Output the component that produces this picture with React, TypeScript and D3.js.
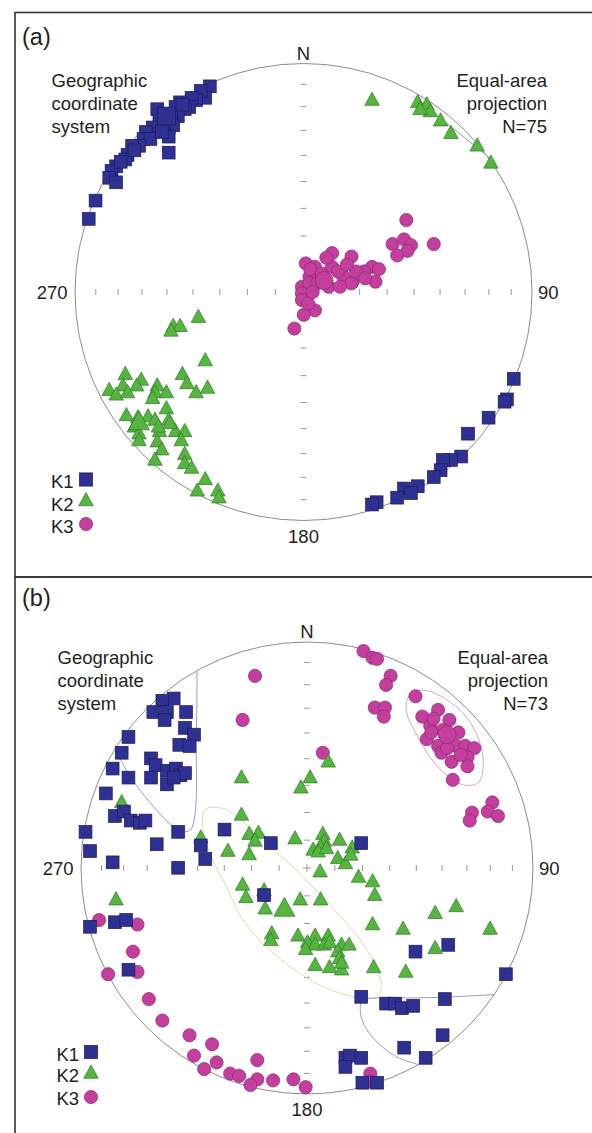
import React from 'react';
import * as d3 from 'd3';

type P = [number, number]; // projected [east, north] on unit equal-area net

// ---- axis ticks (inclination, degrees) ----
const tickInclinations = [10, 20, 30, 40, 50, 60, 70, 80];
const seriesNames = ['K1', 'K2', 'K3'];

// ---- Panel (a) ----
const panelAK1: P[] = [
  [-0.41, 0.9], [-0.43, 0.85], [-0.45, 0.88], [-0.47, 0.84], [-0.49, 0.85], [-0.5, 0.81], [-0.52, 0.8],
  [-0.54, 0.83], [-0.56, 0.81], [-0.55, 0.77], [-0.58, 0.77], [-0.63, 0.78], [-0.64, 0.8], [-0.63, 0.75],
  [-0.59, 0.72], [-0.57, 0.73], [-0.59, 0.68], [-0.59, 0.61], [-0.66, 0.72], [-0.69, 0.7], [-0.7, 0.67],
  [-0.67, 0.67], [-0.72, 0.64], [-0.75, 0.64], [-0.77, 0.6], [-0.78, 0.58], [-0.82, 0.55], [-0.84, 0.53],
  [-0.85, 0.5], [-0.82, 0.48], [-0.91, 0.4], [-0.94, 0.32], [-0.53, 0.82], [-0.61, 0.74], [-0.74, 0.62],
  [-0.62, 0.7], [-0.8, 0.57],
  [0.92, -0.38], [0.89, -0.47], [0.88, -0.48], [0.81, -0.55], [0.72, -0.62], [0.69, -0.72], [0.645, -0.735],
  [0.61, -0.735], [0.6, -0.78], [0.57, -0.81], [0.5, -0.85], [0.44, -0.86], [0.47, -0.88], [0.41, -0.9],
  [0.32, -0.92], [0.3, -0.93],
];
const panelAK2: P[] = [
  [0.3, 0.84], [0.5, 0.83], [0.54, 0.82], [0.555, 0.79], [0.6, 0.75], [0.645, 0.695], [0.76, 0.64],
  [0.82, 0.565], [0.51, 0.8],
  [-0.46, -0.11], [-0.57, -0.15], [-0.54, -0.15], [-0.58, -0.17], [-0.43, -0.3], [-0.53, -0.36], [-0.51, -0.4],
  [-0.42, -0.42], [-0.47, -0.44], [-0.78, -0.36], [-0.71, -0.385], [-0.79, -0.41], [-0.73, -0.41], [-0.85, -0.43],
  [-0.82, -0.45], [-0.77, -0.44], [-0.64, -0.41], [-0.65, -0.44], [-0.6, -0.44], [-0.66, -0.465], [-0.775, -0.54],
  [-0.725, -0.55], [-0.74, -0.59], [-0.68, -0.545], [-0.65, -0.56], [-0.6, -0.51], [-0.59, -0.56], [-0.63, -0.61],
  [-0.72, -0.62], [-0.72, -0.65], [-0.64, -0.655], [-0.56, -0.61], [-0.52, -0.61], [-0.535, -0.65], [-0.62, -0.69],
  [-0.65, -0.735], [-0.52, -0.71], [-0.52, -0.75], [-0.49, -0.77], [-0.43, -0.82], [-0.465, -0.87], [-0.375, -0.87],
  [-0.37, -0.9], [-0.585, -0.575], [-0.635, -0.59],
];
const panelAK3: P[] = [
  [0.45, 0.315], [0.39, 0.21], [0.44, 0.23], [0.47, 0.205], [0.455, 0.18], [0.41, 0.16], [0.57, 0.21],
  [0.125, 0.17], [0.21, 0.155], [0.01, 0.125], [0.05, 0.11], [0.125, 0.11], [0.3, 0.11], [0.265, 0.09],
  [0.315, 0.045], [0.215, 0.045], [0.175, 0.067], [0.026, 0.067], [-0.007, 0.023], [0.026, 0.038], [0.06, 0.038],
  [0.21, 0.038], [-0.007, -0.006], [-0.007, -0.035], [0.05, -0.08], [0.001, -0.1], [-0.04, -0.16], [0.11, 0.023],
  [0.16, 0.023], [0.03, 0.1], [0.08, 0.08], [0.15, 0.09], [0.23, 0.09], [0.19, 0.12], [0.1, 0.15], [0.27, 0.06],
  [0.33, 0.1], [0.02, -0.05], [0.04, 0.0],
];
const panelAMeanK1: P = [-0.6, 0.77];
const panelAMeanK2: P = [-0.72, -0.57];
const panelAMeanK3: P = [0.09, 0.05];
const panelAConfidenceK2: P[] = [[0.48, 0.855], [0.83, 0.575]];

// ---- Panel (b) ----
const panelBK1: P[] = [
  [-0.59, 0.75], [-0.64, 0.74], [-0.68, 0.69], [-0.62, 0.69], [-0.63, 0.655], [-0.535, 0.69], [-0.54, 0.62],
  [-0.5, 0.59], [-0.565, 0.545], [-0.52, 0.54], [-0.79, 0.58], [-0.82, 0.51], [-0.86, 0.44], [-0.79, 0.4],
  [-0.69, 0.485], [-0.67, 0.455], [-0.69, 0.4], [-0.62, 0.43], [-0.62, 0.37], [-0.58, 0.44], [-0.56, 0.41],
  [-0.54, 0.42], [-0.59, 0.4], [-0.89, 0.33], [-0.85, 0.23], [-0.81, 0.25], [-0.78, 0.21], [-0.74, 0.2],
  [-0.715, 0.21], [-0.98, 0.16], [-0.57, 0.16], [-0.365, 0.17], [-0.665, 0.105], [-0.47, 0.1], [-0.16, 0.11],
  [0.24, 0.11], [-0.96, 0.075], [-0.86, 0.025], [-0.57, 0.001], [-0.45, 0.04], [-0.19, -0.12], [-0.96, -0.26],
  [-0.85, -0.24], [-0.8, -0.23], [-0.79, -0.45], [0.48, -0.37], [0.625, -0.34], [0.88, -0.47], [0.24, -0.57],
  [0.35, -0.6], [0.39, -0.6], [0.42, -0.62], [0.47, -0.61], [0.61, -0.58], [0.6, -0.74], [0.43, -0.795],
  [0.525, -0.84], [0.17, -0.84], [0.19, -0.83], [0.24, -0.84], [0.17, -0.88], [0.245, -0.95], [0.31, -0.95],
];
const panelBK2: P[] = [
  [0.094, 0.47], [0.014, 0.4], [-0.027, 0.355], [-0.29, 0.4], [-0.29, 0.235], [-0.82, 0.29], [-0.47, 0.134],
  [-0.256, 0.15], [-0.215, 0.155], [-0.23, 0.12], [-0.053, 0.13], [0.07, 0.15], [0.077, 0.12], [0.144, 0.124],
  [0.027, 0.08], [0.058, 0.094], [0.2, 0.09], [-0.35, 0.075], [-0.256, 0.06], [0.05, 0.072], [0.086, 0.087],
  [0.136, 0.043], [0.17, 0.02], [0.194, 0.058], [0.058, -0.016], [0.228, -0.04], [0.29, -0.06], [0.3, -0.12],
  [-0.285, -0.075], [-0.27, -0.13], [-0.19, -0.1], [-0.185, -0.18], [-0.03, -0.14], [0.06, -0.14], [-0.845, -0.14],
  [0.29, -0.25], [0.425, -0.27], [0.567, -0.2], [0.66, -0.17], [0.81, -0.27], [0.567, -0.355], [0.437, -0.46],
  [0.295, -0.44], [-0.156, -0.29], [-0.16, -0.32], [-0.04, -0.3], [0.036, -0.3], [0.094, -0.3], [0.002, -0.33],
  [0.036, -0.34], [0.077, -0.34], [0.1, -0.33], [0.153, -0.34], [0.186, -0.34], [-0.006, -0.36], [0.136, -0.37],
  [0.144, -0.4], [0.036, -0.43], [0.1, -0.44], [0.153, -0.45], [0.153, -0.42],
];
const panelBK3: P[] = [
  [0.25, 0.96], [0.29, 0.93], [0.31, 0.925], [0.37, 0.85], [0.35, 0.81], [-0.23, 0.85], [-0.285, 0.655],
  [0.07, 0.51], [0.3, 0.71], [0.345, 0.71], [0.34, 0.67], [0.48, 0.76], [0.51, 0.67], [0.58, 0.7], [0.545, 0.63],
  [0.63, 0.655], [0.67, 0.6], [0.53, 0.57], [0.58, 0.54], [0.595, 0.51], [0.66, 0.54], [0.7, 0.54], [0.74, 0.53],
  [0.71, 0.49], [0.64, 0.47], [0.71, 0.45], [0.645, 0.39], [0.82, 0.29], [0.8, 0.25], [0.845, 0.23], [0.73, 0.245],
  [0.72, 0.21], [0.56, 0.66], [0.6, 0.61], [0.55, 0.6], [0.62, 0.53], [0.68, 0.5],
  [-0.92, -0.23], [-0.75, -0.25], [-0.77, -0.37], [-0.75, -0.46], [-0.88, -0.47], [-0.7, -0.58], [-0.64, -0.675],
  [-0.52, -0.74], [-0.42, -0.78], [-0.5, -0.83], [-0.4, -0.86], [-0.455, -0.89], [-0.34, -0.91], [-0.3, -0.92],
  [-0.22, -0.85], [-0.22, -0.935], [-0.25, -0.96], [-0.15, -0.94], [-0.06, -0.935], [-0.006, -0.97], [0.28, -0.91],
  [0.28, -0.945],
];
const panelBMeanK2: P = [-0.1, -0.18];
const panelBMeanK3: P = [0.62, 0.59];
const panelBConfidenceK2: P[] = [
  [-0.45, 0.26], [-0.36, 0.26], [-0.27, 0.19], [-0.19, 0.12], [-0.04, -0.016], [0.06, -0.12], [0.144, -0.21],
  [0.23, -0.31], [0.295, -0.415], [0.33, -0.52], [0.31, -0.57], [0.21, -0.57], [0.06, -0.52], [-0.07, -0.44],
  [-0.19, -0.34], [-0.29, -0.22], [-0.36, -0.075], [-0.42, 0.043], [-0.46, 0.17],
];
const panelBConfidenceK3: P[] = [
  [0.445, 0.75], [0.47, 0.78], [0.53, 0.785], [0.61, 0.75], [0.695, 0.68], [0.76, 0.57], [0.78, 0.455],
  [0.76, 0.38], [0.71, 0.365], [0.645, 0.39], [0.56, 0.47], [0.48, 0.6], [0.44, 0.69],
];
const panelBConfidenceK1Upper: P[] = [
  [-0.487, 0.87], [-0.487, 0.75], [-0.49, 0.53], [-0.49, 0.31], [-0.5, 0.21], [-0.515, 0.17], [-0.55, 0.16],
  [-0.6, 0.19], [-0.66, 0.25], [-0.72, 0.32], [-0.78, 0.4], [-0.82, 0.47], [-0.85, 0.53],
];
const panelBConfidenceK1Lower: P[] = [
  [0.83, -0.56], [0.645, -0.57], [0.48, -0.575], [0.31, -0.575], [0.245, -0.585], [0.236, -0.635],
  [0.253, -0.695], [0.31, -0.77], [0.395, -0.835], [0.495, -0.87],
];

const STYLE: Record<string, { fill: string; stroke: string }> = {
  K1: { fill: '#2e3192', stroke: '#1b1c5e' },
  K2: { fill: '#55b540', stroke: '#2f7a24' },
  K3: { fill: '#c43f9d', stroke: '#8a2a6e' },
};
const FONT = '"Liberation Sans", Arial, Helvetica, sans-serif';

// equal-area radius (unit net) for a given inclination
const eaRadius = (inc: number) => Math.SQRT2 * Math.sin(((90 - inc) * Math.PI) / 180 / 2);

function Marker({ kind, x, y, s }: { kind: string; x: number; y: number; s: number }) {
  const st = STYLE[kind];
  if (kind === 'K1') {
    return <rect x={x - s / 2} y={y - s / 2} width={s} height={s} fill={st.fill} stroke={st.stroke} strokeWidth={0.7} />;
  }
  if (kind === 'K2') {
    const w = s * 1.1;
    const h = s * 1.0;
    const d = `M${x},${y - h * 0.6}L${x + w / 2},${y + h * 0.4}L${x - w / 2},${y + h * 0.4}Z`;
    return <path d={d} fill={st.fill} stroke={st.stroke} strokeWidth={0.7} />;
  }
  return <circle cx={x} cy={y} r={s / 2} fill={st.fill} stroke={st.stroke} strokeWidth={0.7} />;
}

type PanelProps = {
  letter: string;
  n: number;
  cx: number;
  cy: number;
  R: number;
  frameTop: number;
  frameBottom: number;
  k1: P[];
  k2: P[];
  k3: P[];
  means: { kind: string; p: P }[];
  closedRegions: { kind: string; pts: P[]; color: string }[];
  openRegions: { pts: P[]; color: string }[];
  leftTextX: number;
  textBase: number;
  rightTextX: number;
  legendTextX: number;
  legendMarkerX: number;
  legendTextY: number[];
  legendMarkerY: number[];
  letterBase: number;
};

function Panel(p: PanelProps) {
  const x = d3.scaleLinear().domain([-1, 1]).range([p.cx - p.R, p.cx + p.R]);
  const y = d3.scaleLinear().domain([-1, 1]).range([p.cy + p.R, p.cy - p.R]);
  const line = d3.line<P>().x((d) => x(d[0])).y((d) => y(d[1]));
  const closed = d3.line<P>().x((d) => x(d[0])).y((d) => y(d[1])).curve(d3.curveCatmullRomClosed);
  const open = d3.line<P>().x((d) => x(d[0])).y((d) => y(d[1])).curve(d3.curveCatmullRom);
  const tickR = tickInclinations.map(eaRadius);
  const tl = 3;
  const ts = { fontFamily: FONT, fontSize: 18.5, fill: '#231f20' } as const;
  const ms = 13.2;
  return (
    <g>
      <rect x={15} y={p.frameTop} width={600} height={p.frameBottom - p.frameTop} fill="none" stroke="#333" strokeWidth={1.6} />
      <text x={22} y={p.letterBase} style={{ ...ts, fontSize: 23.5 }}>({p.letter})</text>
      <circle cx={p.cx} cy={p.cy} r={p.R} fill="none" stroke="#8c8c8c" strokeWidth={1} />
      {/* ticks */}
      {tickR.map((r, i) => (
        <g key={i} stroke="#9a9a9a" strokeWidth={1}>
          <line x1={x(r)} x2={x(r)} y1={p.cy - tl} y2={p.cy + tl} />
          <line x1={x(-r)} x2={x(-r)} y1={p.cy - tl} y2={p.cy + tl} />
          <line x1={p.cx - tl} x2={p.cx + tl} y1={y(r)} y2={y(r)} />
          <line x1={p.cx - tl} x2={p.cx + tl} y1={y(-r)} y2={y(-r)} />
        </g>
      ))}
      <g stroke="#9a9a9a" strokeWidth={1}>
        <line x1={p.cx - 4} x2={p.cx + 4} y1={p.cy} y2={p.cy} />
        <line x1={p.cx} x2={p.cx} y1={p.cy - 4} y2={p.cy + 4} />
      </g>
      {/* direction labels */}
      <text x={p.cx} y={p.cy - p.R - 4} textAnchor="middle" style={ts}>N</text>
      <text x={p.cx + p.R + 6} y={p.cy + 6.5} style={ts}>90</text>
      <text x={p.cx} y={p.cy + p.R + 22} textAnchor="middle" style={ts}>180</text>
      <text x={p.cx - p.R - 7.5} y={p.cy + 6.5} textAnchor="end" style={ts}>270</text>
      {/* corner texts */}
      {['Geographic', 'coordinate', 'system'].map((t, i) => (
        <text key={t} x={p.leftTextX} y={p.textBase + i * 22.8} style={ts}>{t}</text>
      ))}
      {['Equal-area', 'projection', `N=${p.n}`].map((t, i) => (
        <text key={t} x={p.rightTextX} y={p.textBase + i * 22.8} textAnchor="end" style={ts}>{t}</text>
      ))}
      {/* confidence regions */}
      {p.closedRegions.map((c, i) => (
        <path key={i} d={closed(c.pts) || ''} fill="none" stroke={c.color} strokeWidth={1} />
      ))}
      {p.openRegions.map((c, i) => (
        <path key={i} d={(c.pts.length > 2 ? open(c.pts) : line(c.pts)) || ''} fill="none" stroke={c.color} strokeWidth={1} />
      ))}
      {/* data */}
      {p.k3.map((d, i) => <Marker key={'c' + i} kind="K3" x={x(d[0])} y={y(d[1])} s={ms} />)}
      {p.k2.map((d, i) => <Marker key={'t' + i} kind="K2" x={x(d[0])} y={y(d[1])} s={ms} />)}
      {p.k1.map((d, i) => <Marker key={'s' + i} kind="K1" x={x(d[0])} y={y(d[1])} s={ms - 0.4} />)}
      {p.means.map((m, i) => <Marker key={'m' + i} kind={m.kind} x={x(m.p[0])} y={y(m.p[1])} s={m.kind === 'K2' ? 19 : 18} />)}
      {/* legend */}
      {seriesNames.map((s, i) => (
        <g key={s}>
          <text x={p.legendTextX} y={p.legendTextY[i]} style={ts}>{s}</text>
          <Marker kind={s} x={p.legendMarkerX} y={p.legendMarkerY[i]} s={ms} />
        </g>
      ))}
    </g>
  );
}

export default function App() {
  return (
    <svg width={592} height={1133} style={{ position: 'absolute', left: 0, top: 0, background: '#fff' }}>
      <rect width={592} height={1133} fill="#fff" />
      <Panel
        letter="a" n={75} cx={303.5} cy={292} R={228.5} frameTop={12.5} frameBottom={577}
        k1={panelAK1} k2={panelAK2} k3={panelAK3}
        means={[{ kind: 'K3', p: panelAMeanK3 }, { kind: 'K2', p: panelAMeanK2 }, { kind: 'K1', p: panelAMeanK1 }]}
        closedRegions={[]}
        openRegions={[{ pts: panelAConfidenceK2, color: '#9a9a9a' }]}
        leftTextX={51.5} textBase={87} rightTextX={547}
        legendTextX={51} legendMarkerX={86} legendTextY={[488, 511, 533]} legendMarkerY={[479.5, 500.5, 524]}
        letterBase={45}
      />
      <Panel
        letter="b" n={73} cx={307} cy={868} R={226} frameTop={577} frameBottom={1160}
        k1={panelBK1} k2={panelBK2} k3={panelBK3}
        means={[{ kind: 'K2', p: panelBMeanK2 }, { kind: 'K3', p: panelBMeanK3 }]}
        closedRegions={[
          { kind: 'K2', pts: panelBConfidenceK2, color: '#d6dfa6' },
          { kind: 'K3', pts: panelBConfidenceK3, color: '#d9a3cc' },
        ]}
        openRegions={[
          { pts: panelBConfidenceK1Upper, color: '#9a9cc8' },
          { pts: panelBConfidenceK1Lower, color: '#9a9cc8' },
        ]}
        leftTextX={57.5} textBase={664} rightTextX={548}
        legendTextX={56.5} legendMarkerX={91} legendTextY={[1061, 1082, 1105]} legendMarkerY={[1052, 1073, 1097]}
        letterBase={606}
      />
    </svg>
  );
}
